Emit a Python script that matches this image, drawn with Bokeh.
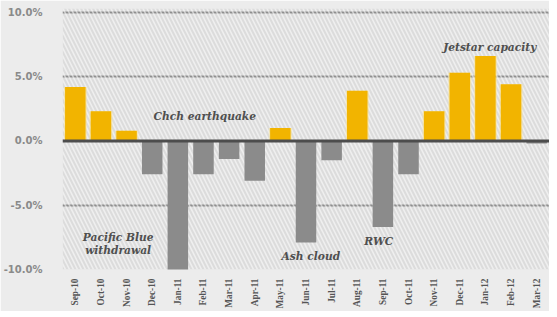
from bokeh.plotting import figure
from bokeh.embed import file_html
from bokeh.resources import INLINE
from bokeh.models import ColumnDataSource, FixedTicker, BoxAnnotation, Span, FactorRange
from bokeh.transform import dodge
from bokeh.core.properties import value
import math

months = ["Sep-10", "Oct-10", "Nov-10", "Dec-10", "Jan-11", "Feb-11", "Mar-11", "Apr-11",
          "May-11", "Jun-11", "Jul-11", "Aug-11", "Sep-11", "Oct-11", "Nov-11", "Dec-11",
          "Jan-12", "Feb-12", "Mar-12"]
growth = [4.2, 2.3, 0.8, -2.6, -10.3, -2.6, -1.4, -3.1, 1.0, -7.9, -1.5, 3.9, -6.7, -2.6,
          2.3, 5.3, 6.6, 4.4, -0.2]
y_ticks = [-10, -5, 0, 5, 10]
y_labels = ["-10.0%", "-5.0%", "0.0%", "5.0%", "10.0%"]

note_text = ["Chch earthquake", "Jetstar capacity", "Pacific Blue", "withdrawal", "Ash cloud", "RWC"]
note_cat = ["Feb-11", "Jan-12", "Oct-10", "Oct-10", "Jun-11", "Sep-11"]
note_off = [0.05, 0.17, 0.67, 0.67, 0.19, -0.16]
note_y = [1.9, 7.27, -7.5, -8.5, -8.95, -7.85]

gold, grey = "#f2b400", "#8b8b8b"
colors = [gold if v >= 0 else grey for v in growth]

src = ColumnDataSource(dict(m=months, v=growth, c=colors))

p = figure(frame_width=487, frame_height=261, x_range=FactorRange(*months, range_padding=0),
           y_range=(-10, 10.3), output_backend="svg", toolbar_location=None,
           min_border_left=61, min_border_right=0, min_border_top=8, min_border_bottom=40)
p.outline_line_color = None
p.background_fill_color = "#dcdcdc"
p.border_fill_color = "#ececec"

p.add_layout(BoxAnnotation(fill_alpha=0, line_alpha=0, hatch_pattern="\\",
                           hatch_color="white", hatch_alpha=0.55, hatch_scale=8,
                           hatch_weight=1.5, level="underlay"))

# glow for gold bars
gsrc = ColumnDataSource(dict(m=[m for m, v in zip(months, growth) if v > 0],
                             v=[v for v in growth if v > 0]))
p.vbar(x="m", top="v", bottom=0, width=0.9, source=gsrc, fill_color="#ffe27a",
       fill_alpha=0.45, line_color=None)
p.vbar(x="m", top="v", bottom=0, width=0.8, source=src, fill_color="c", line_color=None)

p.add_layout(Span(location=0, dimension="width", line_color="#4d4d4d", line_width=3))

for t, m, o, y in zip(note_text, note_cat, note_off, note_y):
    ns = ColumnDataSource(dict(t=[t], m=[m], y=[y]))
    p.text(x=dodge("m", o, range=p.x_range), y="y", text="t", source=ns,
           text_font=value("DejaVu Serif"), text_font_style="bold italic",
           text_font_size="8pt", text_color="#4f4f4f", text_align="center",
           text_baseline="middle")

p.ygrid.ticker = FixedTicker(ticks=[-10, -5, 5, 10])
p.ygrid.grid_line_color = "#8f8f8f"
p.ygrid.grid_line_width = 2
p.xgrid.grid_line_color = None

p.yaxis.ticker = FixedTicker(ticks=y_ticks)
p.yaxis.major_label_overrides = {t: l for t, l in zip(y_ticks, y_labels)}
p.yaxis.axis_line_color = None
p.yaxis.major_tick_line_color = None
p.yaxis.minor_tick_line_color = None
p.yaxis.major_label_standoff = 14
p.yaxis.major_label_text_font = "DejaVu Sans"
p.yaxis.major_label_text_font_style = "bold"
p.yaxis.major_label_text_font_size = "7.5pt"
p.yaxis.major_label_text_color = "#8a8a8a"

p.xaxis.axis_line_color = None
p.xaxis.major_tick_line_color = None
p.xaxis.major_label_orientation = math.pi / 2
p.xaxis.major_label_standoff = 3
p.xaxis.major_label_text_font = "Liberation Serif"
p.xaxis.major_label_text_font_style = "bold"
p.xaxis.major_label_text_font_size = "7pt"
p.xaxis.major_label_text_color = "#555555"

open("out.html", "w").write(file_html(p, INLINE))
